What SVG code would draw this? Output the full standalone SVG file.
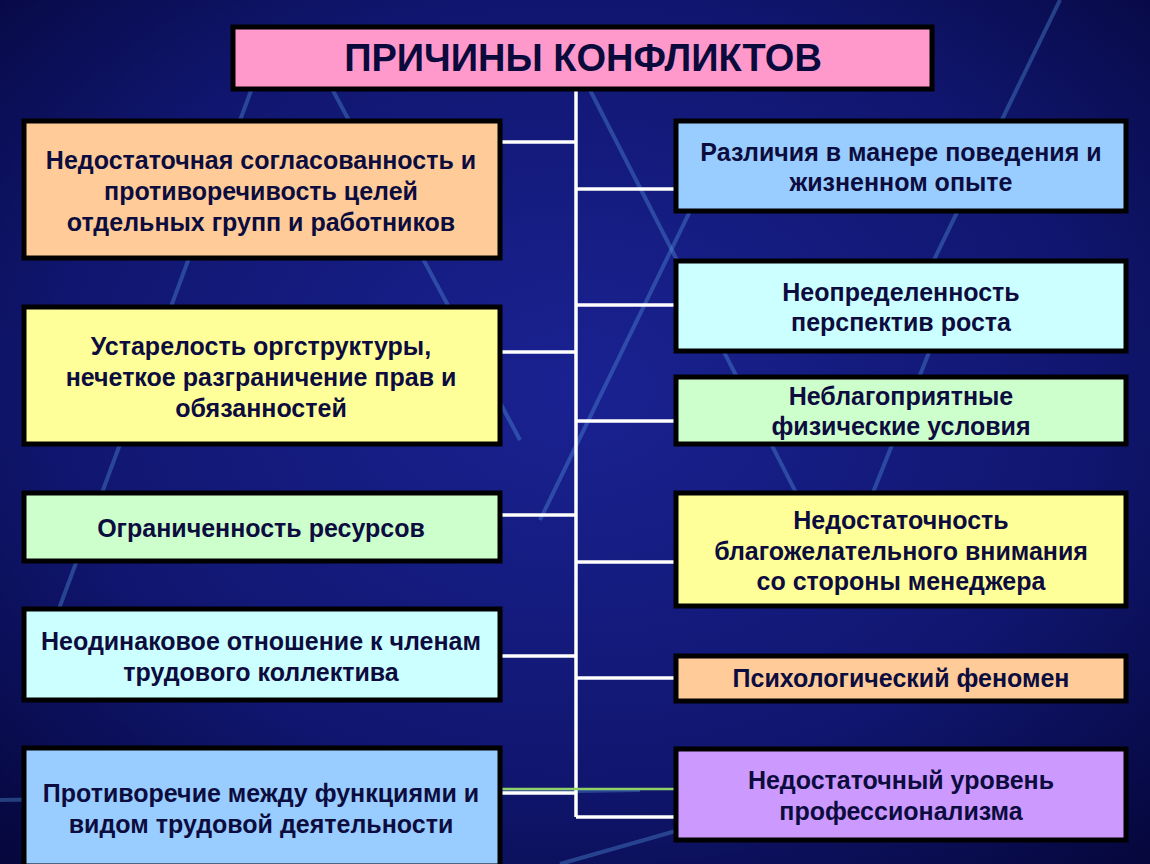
<svg xmlns="http://www.w3.org/2000/svg" width="1150" height="864" viewBox="0 0 1150 864">
<defs>
<radialGradient id="bg" cx="0.5" cy="0.45" r="0.75">
<stop offset="0" stop-color="#1a2292"/>
<stop offset="0.6" stop-color="#10166f"/>
<stop offset="1" stop-color="#05063a"/>
</radialGradient>
<style>
.box{stroke:#000;stroke-width:5}
.t{font-family:"Liberation Sans",Arial,sans-serif;font-weight:bold;font-size:25px;fill:#0c0c3e;text-anchor:middle}
.title{font-family:"Liberation Sans",Arial,sans-serif;font-weight:bold;font-size:38px;fill:#0a0a3c;text-anchor:middle}
.c{stroke:#fff;stroke-width:3.5;fill:none}
.s{stroke:#4f8fd8;stroke-width:4;fill:none;opacity:0.4}
</style>
</defs>
<rect width="1150" height="864" fill="url(#bg)"/>
<g id="streaks">
<path class="s" d="M255 80 L40 660"/>
<path class="s" d="M330 85 L520 440"/>
<path class="s" d="M590 90 L810 520"/>
<path class="s" d="M710 170 L540 520"/>
<path class="s" d="M1060 0 L900 330"/>
<path class="s" d="M930 350 L830 600"/>
<path class="s" d="M0 800 L640 790" opacity="0.25"/>
<path class="s" d="M560 864 L820 790" opacity="0.3"/>
<path class="s" d="M30 864 L250 820" opacity="0.25"/>
</g>
<g id="connectors">
<line class="c" x1="576" y1="89" x2="576" y2="817"/>
<line class="c" x1="500" y1="142" x2="576" y2="142"/>
<line class="c" x1="500" y1="352" x2="576" y2="352"/>
<line class="c" x1="500" y1="515" x2="576" y2="515"/>
<line class="c" x1="500" y1="656" x2="576" y2="656"/>
<line class="c" x1="500" y1="793" x2="576" y2="793"/>
<line class="c" x1="576" y1="189" x2="676" y2="189"/>
<line class="c" x1="576" y1="305" x2="676" y2="305"/>
<line class="c" x1="576" y1="421" x2="676" y2="421"/>
<line class="c" x1="576" y1="562" x2="676" y2="562"/>
<line class="c" x1="576" y1="678" x2="676" y2="678"/>
<line class="c" x1="576" y1="817" x2="676" y2="817"/>
<line x1="500" y1="789" x2="676" y2="789" stroke="#8fd068" stroke-width="2.5"/>
</g>
<g id="title">
<rect class="box" x="233" y="27" width="699" height="62" fill="#ff99cc"/>
<text class="title" x="583" y="71">ПРИЧИНЫ КОНФЛИКТОВ</text>
</g>
<g id="left1">
<rect class="box" x="24" y="121" width="476" height="137" fill="#ffcc99"/>
<text class="t" x="261" y="169">Недостаточная согласованность и</text>
<text class="t" x="261" y="200">противоречивость целей</text>
<text class="t" x="261" y="231">отдельных групп и работников</text>
</g>
<g id="left2">
<rect class="box" x="24" y="307" width="476" height="137" fill="#ffff99"/>
<text class="t" x="261" y="355">Устарелость оргструктуры,</text>
<text class="t" x="261" y="386">нечеткое разграничение прав и</text>
<text class="t" x="261" y="417">обязанностей</text>
</g>
<g id="left3">
<rect class="box" x="24" y="493" width="476" height="68" fill="#ccffcc"/>
<text class="t" x="261" y="537">Ограниченность ресурсов</text>
</g>
<g id="left4">
<rect class="box" x="24" y="609" width="476" height="91" fill="#ccffff"/>
<text class="t" x="261" y="650">Неодинаковое отношение к членам</text>
<text class="t" x="261" y="681">трудового коллектива</text>
</g>
<g id="left5">
<rect class="box" x="24" y="748" width="476" height="118" fill="#99ccff"/>
<text class="t" x="261" y="802">Противоречие между функциями и</text>
<text class="t" x="261" y="833">видом трудовой деятельности</text>
</g>
<g id="right1">
<rect class="box" x="676" y="121" width="450" height="90" fill="#99ccff"/>
<text class="t" x="901" y="161">Различия в манере поведения и</text>
<text class="t" x="901" y="191">жизненном опыте</text>
</g>
<g id="right2">
<rect class="box" x="676" y="261" width="450" height="90" fill="#ccffff"/>
<text class="t" x="901" y="301">Неопределенность</text>
<text class="t" x="901" y="331">перспектив роста</text>
</g>
<g id="right3">
<rect class="box" x="676" y="377" width="450" height="67" fill="#ccffcc"/>
<text class="t" x="901" y="405">Неблагоприятные</text>
<text class="t" x="901" y="435">физические условия</text>
</g>
<g id="right4">
<rect class="box" x="676" y="493" width="450" height="113" fill="#ffff99"/>
<text class="t" x="901" y="529">Недостаточность</text>
<text class="t" x="901" y="560">благожелательного внимания</text>
<text class="t" x="901" y="590">со стороны менеджера</text>
</g>
<g id="right5">
<rect class="box" x="676" y="656" width="450" height="45" fill="#ffcc99"/>
<text class="t" x="901" y="687">Психологический феномен</text>
</g>
<g id="right6">
<rect class="box" x="676" y="749" width="450" height="91" fill="#cc99ff"/>
<text class="t" x="901" y="789">Недостаточный уровень</text>
<text class="t" x="901" y="820">профессионализма</text>
</g>
</svg>
